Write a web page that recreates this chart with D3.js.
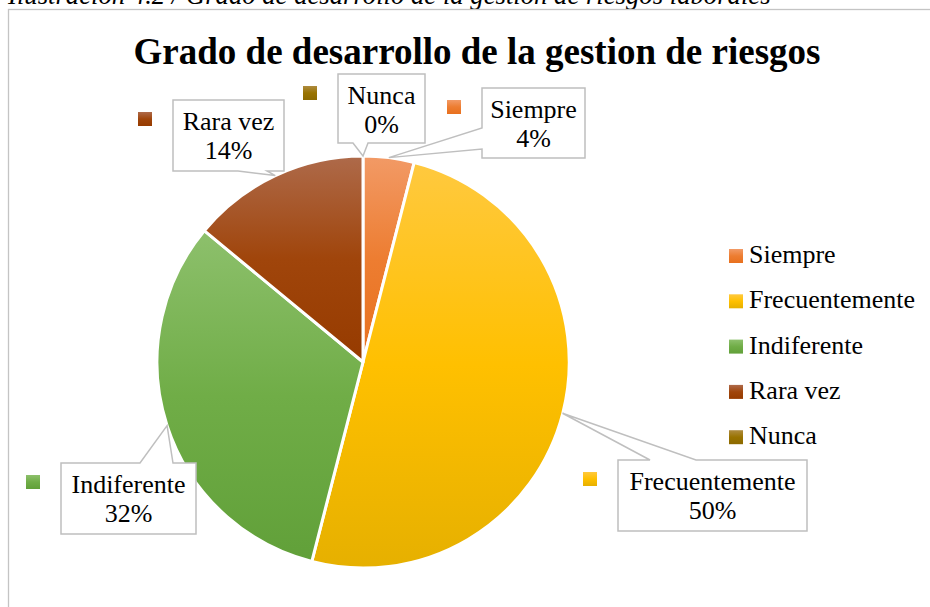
<!DOCTYPE html>
<html>
<head>
<meta charset="utf-8">
<script src="https://cdn.jsdelivr.net/npm/d3@7"></script>
<style>
  body { margin: 0; background: #fff; }
</style>
</head>
<body>
<script>
// categorias y porcentajes
var categories = ["Siempre", "Frecuentemente", "Indiferente", "Rara vez", "Nunca"];
var values = [4, 50, 32, 14, 0];
var percentLabels = ["4%", "50%", "32%", "14%", "0%"];

// colores: claro arriba, base, oscuro abajo
var colorTop = ["#F29A66", "#FFC93F", "#8DC06C", "#AE6A4A", "#AE8B3F"];
var colorMid = ["#ED7D31", "#FFC000", "#70AD47", "#A0450B", "#997300"];
var colorBottom = ["#E8701E", "#E6B000", "#61A039", "#963B00", "#8C6900"];

// cajas de etiquetas: x, y, ancho, alto, lado de la punta, base de la punta
var labelBoxes = [
  [482, 88, 103, 70, "left", 40, 61],
  [618, 460, 189, 71, "top", 32, 78],
  [61, 463, 135, 71, "top", 79, 112],
  [173, 100, 111, 71, "bottom", 65, 94],
  [338, 74, 87, 69, "bottom", 15, 30]
];

var FONT = "'Liberation Serif', 'Times New Roman', Times, serif";
var width = 930, height = 607;
var cx = 363, cy = 362, radius = 206;

var svg = d3.select("body").
  append("svg").
  attr("width", width).
  attr("height", height).
  attr("font-family", FONT);

svg.append("rect")
  .attr("width", width)
  .attr("height", height)
  .attr("fill", "#fff");

// pie de la ilustracion (cortado arriba)
svg.append("text")
  .attr("x", 8)
  .attr("y", 4)
  .attr("font-family", FONT)
  .attr("font-style", "italic")
  .attr("font-size", 26.7)
  .text("Ilustración 4.2 / Grado de desarrollo de la gestion de riesgos laborales");

svg.append("rect")
  .attr("x", 8.5)
  .attr("y", 9.5)
  .attr("width", 940)
  .attr("height", 620)
  .attr("fill", "none")
  .attr("stroke", "#C4C4C4")
  .attr("stroke-width", 1.3);

var defs = svg.append("defs");
categories.forEach(function(c, i){
  var g = defs.append("linearGradient")
    .attr("id", "grad" + i)
    .attr("x1", 0).attr("y1", 0)
    .attr("x2", 0).attr("y2", 1);
  g.append("stop").attr("offset", "0%").attr("stop-color", colorTop[i]);
  g.append("stop").attr("offset", "50%").attr("stop-color", colorMid[i]);
  g.append("stop").attr("offset", "100%").attr("stop-color", colorBottom[i]);
});

svg.append("text")
  .attr("x", 477)
  .attr("y", 64)
  .attr("text-anchor", "middle")
  .attr("font-family", FONT)
  .attr("font-size", 37)
  .attr("font-weight", "bold")
  .text("Grado de desarrollo de la gestion de riesgos");

var pie = d3.pie().sort(null).value(function(d){ return d; });
var arcs = pie(values);

var arc = d3.arc().innerRadius(0).outerRadius(radius);
var edgeArc = d3.arc().innerRadius(radius).outerRadius(radius);

var pieG = svg.append("g").attr("transform", "translate(" + cx + "," + cy + ")");

pieG.selectAll("path.slice")
  .data(arcs)
  .enter().append("path")
  .attr("class", "slice")
  .attr("d", arc)
  .attr("fill", function(d, i){ return "url(#grad" + i + ")"; })
  .attr("stroke", "#fff")
  .attr("stroke-width", function(d){ return d.value > 0 ? 3 : 1.5; })
  .attr("stroke-linejoin", "round");

// callouts
function calloutPath(b, tip){
  var x = b[0], y = b[1], w = b[2], h = b[3], side = b[4], p0 = b[5], p1 = b[6];
  var pts = [];
  pts.push([x, y]);
  if (side === "top") { pts.push([x + p0, y], tip, [x + p1, y]); }
  pts.push([x + w, y]);
  pts.push([x + w, y + h]);
  if (side === "bottom") { pts.push([x + p1, y + h], tip, [x + p0, y + h]); }
  pts.push([x, y + h]);
  if (side === "left") { pts.push([x, y + p1], tip, [x, y + p0]); }
  return "M" + pts.map(function(p){ return p[0] + "," + p[1]; }).join("L") + "Z";
}

var labels = svg.append("g");
arcs.forEach(function(d, i){
  var b = labelBoxes[i];
  var c = edgeArc.centroid(d);
  var tip = [cx + c[0], cy + c[1]];

  labels.append("path")
    .attr("d", calloutPath(b, tip))
    .attr("fill", "#fff")
    .attr("stroke", "#BFBFBF")
    .attr("stroke-width", 1.5);

  labels.append("rect")
    .attr("x", b[0] - 35)
    .attr("y", b[1] + 12)
    .attr("width", 14)
    .attr("height", 14)
    .attr("fill", "url(#grad" + i + ")");

  var t = labels.append("text")
    .attr("text-anchor", "middle")
    .attr("font-family", FONT)
    .attr("font-size", 26);
  t.append("tspan").attr("x", b[0] + b[2] / 2).attr("y", b[1] + 30).text(categories[i]);
  t.append("tspan").attr("x", b[0] + b[2] / 2).attr("y", b[1] + 59).text(percentLabels[i]);
});

// leyenda
var legend = svg.append("g").attr("transform", "translate(729,249)");
var item = legend.selectAll("g.item")
  .data(categories)
  .enter().append("g")
  .attr("class", "item")
  .attr("transform", function(d, i){ return "translate(0," + (i * 45.3) + ")"; });

item.append("rect")
  .attr("width", 14)
  .attr("height", 14)
  .attr("fill", function(d, i){ return "url(#grad" + i + ")"; });

item.append("text")
  .attr("x", 20)
  .attr("y", 14)
  .attr("font-family", FONT)
  .attr("font-size", 26)
  .text(function(d){ return d; });
</script>
</body>
</html>
